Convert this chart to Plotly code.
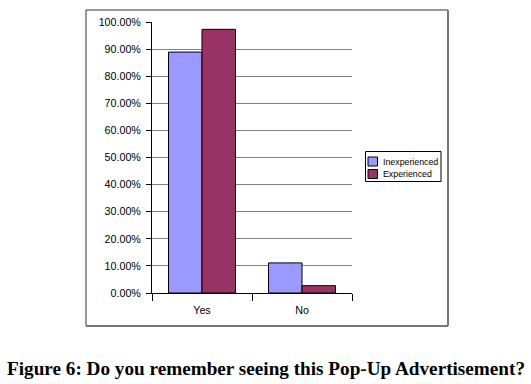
import plotly.graph_objects as go

categories = ["Yes", "No"]
series_names = ["Inexperienced", "Experienced"]
inexperienced = [0.889, 0.111]
experienced = [0.973, 0.027]
y_ticks = [0, 0.1, 0.2, 0.3, 0.4, 0.5, 0.6, 0.7, 0.8, 0.9, 1.0]
colors = ["#9999FF", "#993366"]

W, H = 531, 384
L, R, T, B = 152, 352, 22, 293  # plot area in page pixels

def px_x(p):
    return (p - L) / (R - L)

def px_y(p):
    return (B - p) / (B - T)

fig = go.Figure()
for name, vals, col in zip(series_names, [inexperienced, experienced], colors):
    fig.add_trace(go.Bar(name=name, x=categories, y=vals,
                         marker=dict(color=col, line=dict(color="black", width=1))))

fig.update_layout(
    width=W, height=H, autosize=False,
    margin=dict(l=L, r=W - R, t=T, b=H - B, pad=0),
    paper_bgcolor="white", plot_bgcolor="white",
    barmode="group", bargap=0.33, bargroupgap=0,
    font=dict(family="Arial, Liberation Sans", size=10, color="black"),
    showlegend=False,
    xaxis=dict(range=[-0.5, 1.5], showline=True, linecolor="black", linewidth=1,
               ticks="outside", tickson="boundaries", ticklen=7, tickcolor="black",
               ticklabelstandoff=7,
               showgrid=False, fixedrange=True, tickfont=dict(size=10.7)),
    yaxis=dict(range=[0, 1], tickvals=y_ticks, tickformat=".2%",
               showline=True, linecolor="black", linewidth=1,
               ticks="outside", ticklen=5, tickcolor="black",
               ticklabelstandoff=3,
               showgrid=True, gridcolor="#808080", gridwidth=1,
               zeroline=False, fixedrange=True, tickfont=dict(size=10.7)),
)

# outer chart border
x0, x1 = px_x(86), px_x(448)
y0, y1 = px_y(326), px_y(10)
fig.add_shape(type="line", xref="paper", yref="paper", x0=x0, x1=x1, y0=y1, y1=y1,
              line=dict(color="#333333", width=1))
fig.add_shape(type="line", xref="paper", yref="paper", x0=x0, x1=x0, y0=y0, y1=y1,
              line=dict(color="#333333", width=1))
fig.add_shape(type="line", xref="paper", yref="paper", x0=x1, x1=x1, y0=y0, y1=y1,
              line=dict(color="#777777", width=2))
fig.add_shape(type="line", xref="paper", yref="paper", x0=x0, x1=x1, y0=y0, y1=y0,
              line=dict(color="#777777", width=2))

# legend (drawn to match the compact Excel legend)
fig.add_shape(type="rect", xref="paper", yref="paper",
              x0=px_x(365.5), x1=px_x(441), y0=px_y(181.5), y1=px_y(151.5),
              line=dict(color="black", width=1), fillcolor="white")
for i, (name, col) in enumerate(zip(series_names, colors)):
    cy = 161.5 + i * 12.5
    fig.add_shape(type="rect", xref="paper", yref="paper",
                  x0=px_x(368), x1=px_x(377.5), y0=px_y(cy + 4.5), y1=px_y(cy - 4.5),
                  line=dict(color="black", width=1), fillcolor=col)
    fig.add_annotation(text=name, xref="paper", yref="paper",
                       x=px_x(380.5), y=px_y(cy), xanchor="left", yanchor="middle",
                       showarrow=False, font=dict(size=8.8, color="black"))

fig.add_annotation(text="<b>Figure 6: Do you remember seeing this Pop-Up Advertisement?</b>",
                   xref="paper", yref="paper", x=px_x(266), y=px_y(368),
                   xanchor="center", yanchor="middle", showarrow=False,
                   font=dict(family="Liberation Serif, Times New Roman", size=19.2, color="black"))

fig.write_html("out.html", config={"displayModeBar": False},
               post_script="document.body.style.margin='0';document.body.style.overflow='hidden';")
